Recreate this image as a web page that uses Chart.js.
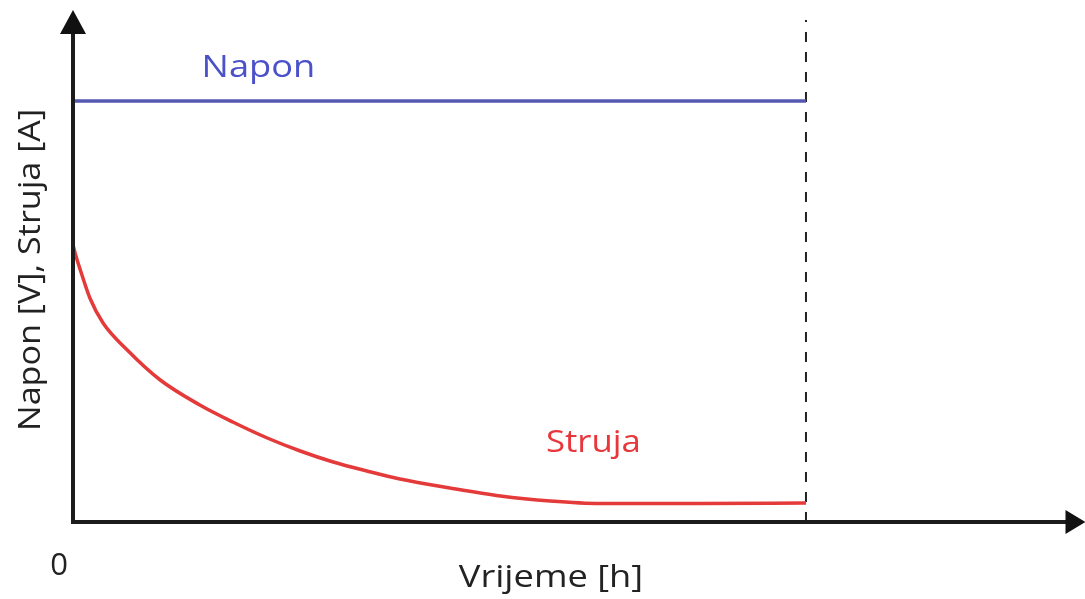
<!DOCTYPE html>
<html lang="hr">
<head>
    <meta charset="UTF-8">
    <title>Napon i struja</title>
    <script src="https://cdn.jsdelivr.net/npm/chart.js"></script>
    <style>
        html, body { margin: 0; padding: 0; background: #fff; }
        #wrap { width: 1085px; height: 599px; }
    </style>
</head>
<body>
    <div id="wrap"><canvas id="chart" width="1085" height="599"></canvas></div>
    <script>
        // vrijeme [h] i vrijednosti procitane sa slike
        var endTime = 10;
        var naponValue = 8.42;
        var strujaTime = [0, 0.04, 0.10, 0.23, 0.41, 0.74, 1.19, 1.73, 2.18, 2.65, 3.10, 3.55, 4.01, 4.46, 5.14, 5.83, 6.51, 7.19, 8.55, 10];
        var strujaValues = [5.54, 5.32, 5.04, 4.48, 3.98, 3.44, 2.84, 2.34, 2.00, 1.68, 1.42, 1.20, 1.02, 0.86, 0.68, 0.52, 0.42, 0.37, 0.37, 0.38];
        var xMax = 13.8;
        var yMax = 10.24;

        var strujaPoints = strujaTime.map(function (t, i) { return { x: t, y: strujaValues[i] }; });

        var fontFam = '"Open Sans", "Noto Sans", sans-serif';

        // tekst malo razvucen vodoravno kao na slici
        function wideText(ctx, txt, x, y, sx) {
            ctx.save();
            ctx.translate(x, y);
            ctx.scale(sx, 1);
            ctx.fillText(txt, 0, 0);
            ctx.restore();
        }

        var decor = {
            id: 'decor',
            afterDatasetsDraw: function (chart) {
                var ctx = chart.ctx;
                var a = chart.chartArea;
                var xs = chart.scales.x, ys = chart.scales.y;
                ctx.save();
                // osi
                ctx.strokeStyle = '#1c1c1c';
                ctx.fillStyle = '#111';
                ctx.lineWidth = 4;
                ctx.beginPath();
                ctx.moveTo(a.left, a.top + 20);
                ctx.lineTo(a.left, a.bottom);
                ctx.lineTo(a.right - 16, a.bottom);
                ctx.stroke();
                // strelice
                ctx.beginPath();
                ctx.moveTo(a.left, a.top);
                ctx.lineTo(a.left - 13, a.top + 24);
                ctx.lineTo(a.left + 13, a.top + 24);
                ctx.closePath();
                ctx.fill();
                ctx.beginPath();
                ctx.moveTo(a.right + 1, a.bottom);
                ctx.lineTo(a.right - 19, a.bottom - 12);
                ctx.lineTo(a.right - 19, a.bottom + 12);
                ctx.closePath();
                ctx.fill();

                // tekstovi
                ctx.textAlign = 'center';
                ctx.textBaseline = 'middle';
                ctx.font = '31px ' + fontFam;
                ctx.fillStyle = '#4b52c9';
                wideText(ctx, 'Napon', xs.getPixelForValue(2.53), ys.getPixelForValue(9.08), 1.17);
                ctx.fillStyle = '#e8363b';
                wideText(ctx, 'Struja', xs.getPixelForValue(7.1), ys.getPixelForValue(1.58), 1.12);
                ctx.fillStyle = '#222';
                ctx.font = '31px ' + fontFam;
                ctx.fillText('0', a.left - 14, a.bottom + 44);
                wideText(ctx, 'Vrijeme [h]', 551, 578, 1.17);
                ctx.translate(31, 270);
                ctx.rotate(-Math.PI / 2);
                wideText(ctx, 'Napon [V], Struja [A]', 0, 0, 1.1);
                ctx.restore();
            }
        };

        var chart = new Chart(document.getElementById('chart').getContext('2d'), {
            type: 'line',
            data: {
                datasets: [{
                    label: 'Napon',
                    data: [{ x: 0, y: naponValue }, { x: endTime, y: naponValue }],
                    borderColor: '#5558b0',
                    borderWidth: 3.5,
                    pointRadius: 0
                }, {
                    label: 'Struja',
                    data: strujaPoints,
                    borderColor: '#e53a3a',
                    borderWidth: 3.5,
                    pointRadius: 0,
                    cubicInterpolationMode: 'monotone'
                }, {
                    label: 'kraj',
                    data: [{ x: endTime, y: 0 }, { x: endTime, y: yMax - 0.2 }],
                    borderColor: '#222',
                    borderWidth: 2,
                    borderDash: [10, 10],
                    pointRadius: 0
                }]
            },
            options: {
                responsive: false,
                animation: false,
                layout: { padding: { left: 73, right: 0.5, top: 10, bottom: 77 } },
                plugins: { legend: { display: false }, tooltip: { enabled: false } },
                scales: {
                    x: { type: 'linear', min: 0, max: xMax, display: false },
                    y: { type: 'linear', min: 0, max: yMax, display: false }
                }
            },
            plugins: [decor]
        });
    </script>
</body>
</html>
